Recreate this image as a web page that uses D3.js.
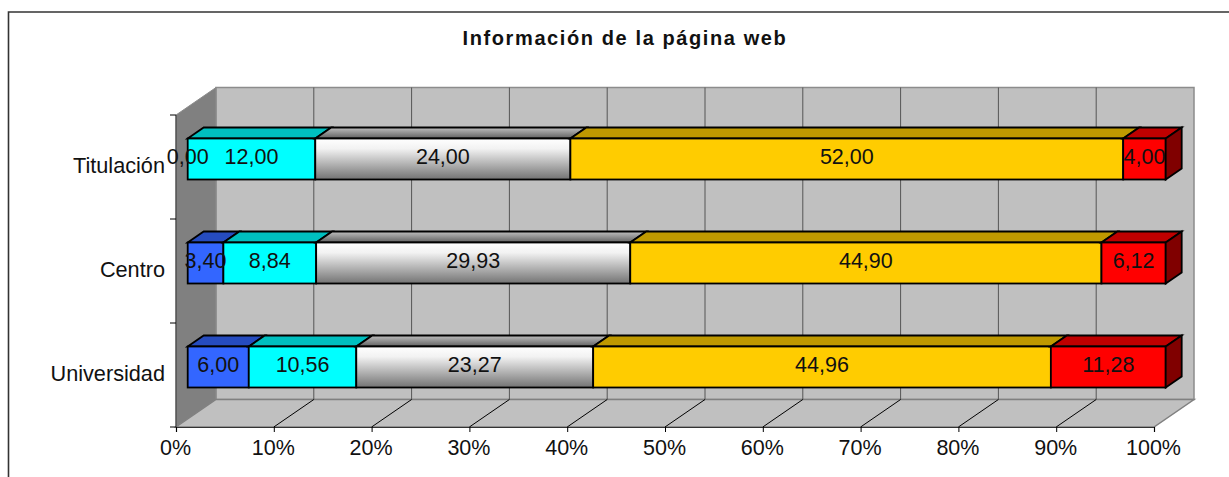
<!DOCTYPE html>
<html>
<head>
<meta charset="utf-8">
<script src="https://cdn.jsdelivr.net/npm/d3@7"></script>
<style>
  html, body { margin: 0; padding: 0; background: #fff; }
  svg { display: block; }
  text { font-family: "Liberation Sans", Arial, sans-serif; fill: #111; }
</style>
</head>
<body>
<div id="chart"></div>
<script>
const categories = ['Universidad', 'Centro', 'Titulación'];
const seriesNames = ['azul', 'cian', 'gris', 'amarillo', 'rojo'];
const azul = [6.00, 3.40, 0.00];
const cian = [10.56, 8.84, 12.00];
const gris = [23.27, 29.93, 24.00];
const amarillo = [44.96, 44.90, 52.00];
const rojo = [11.28, 6.12, 4.00];
const tickLabels = [0, 10, 20, 30, 40, 50, 60, 70, 80, 90, 100];

const width = 1229, height = 477;
const svg = d3.select('#chart').append('svg').attr('width', width).attr('height', height);

const frontColors = ['#3366ff', '#00ffff', 'url(#grisFront)', '#ffcc00', '#ff0000'];
const topColors = ['#264cbf', '#00bfbf', 'url(#grisTop)', '#bf9900', '#bf0000'];
const sideColors = ['#1a3380', '#008080', '#666666', '#806600', '#800000'];

const defs = svg.append('defs');
const grad = (id, stops) => {
    const g = defs.append('linearGradient').attr('id', id).attr('x1', 0).attr('y1', 0).attr('x2', 0).attr('y2', 1);
    stops.forEach(s => g.append('stop').attr('offset', s[0]).attr('stop-color', s[1]));
};
grad('grisFront', [[0, '#ffffff'], [0.25, '#f2f2f2'], [1, '#737373']]);
grad('grisTop', [[0, '#c0c0c0'], [1, '#606060']]);

// front plane of the 3D box
const x = d3.scaleLinear().domain([0, 100]).range([176, 1154]);
const y = d3.scaleBand().domain(categories.slice().reverse()).range([115, 427]);
const depthX = 40, depthY = -27.5;
const barDx = 11.7, barDy = -8, barDepthX = 16, barDepthY = -11;
const barHeight = 41;

// chart border: the right side is cut off in the reference
svg.append('path').attr('d', 'M8.5,477V12H1229').attr('fill', 'none').attr('stroke', '#333').attr('stroke-width', 1.6);

svg.append('text').attr('x', 625).attr('y', 45).attr('text-anchor', 'middle')
    .style('font-size', '20px').style('font-weight', 'bold').style('letter-spacing', '1.6px')
    .text('Información de la página web');

const x0 = x(0), x1 = x(100), yT = y.range()[0], yB = y.range()[1];

// walls
const poly = pts => pts.map(p => p.join(',')).join(' ');
svg.append('polygon').attr('points', poly([[x0 + depthX, yT + depthY], [x1 + depthX, yT + depthY], [x1 + depthX, yB + depthY], [x0 + depthX, yB + depthY]]))
    .attr('fill', '#c0c0c0').attr('stroke', '#8c8c8c').attr('stroke-width', 1.5);
svg.append('polygon').attr('points', poly([[x0, yT], [x0 + depthX, yT + depthY], [x0 + depthX, yB + depthY], [x0, yB]]))
    .attr('fill', '#808080').attr('stroke', '#8c8c8c');
svg.append('polygon').attr('points', poly([[x0, yB], [x0 + depthX, yB + depthY], [x1 + depthX, yB + depthY], [x1, yB]]))
    .attr('fill', '#c0c0c0').attr('stroke', '#808080').attr('stroke-width', 1.5);

// gridlines
tickLabels.slice(1, -1).forEach(t => {
    svg.append('line').attr('x1', x(t) + depthX).attr('x2', x(t) + depthX).attr('y1', yT + depthY).attr('y2', yB + depthY)
        .attr('stroke', '#555').attr('stroke-width', 1);
    svg.append('line').attr('x1', x(t)).attr('x2', x(t) + depthX).attr('y1', yB).attr('y2', yB + depthY)
        .attr('stroke', '#000').attr('stroke-width', 1);
});

// axes
const xAxis = d3.axisBottom(x).tickValues(tickLabels).tickFormat(d => d + '%').tickSize(5).tickPadding(8);
const gx = svg.append('g').attr('transform', `translate(0,${yB})`).call(xAxis);
gx.selectAll('text').style('font-size', '21.5px').attr('font-family', null).attr('dx', -1);
gx.selectAll('line').attr('stroke', '#000');
gx.select('.domain').attr('stroke', '#333').attr('stroke-width', 1.2);

svg.append('line').attr('x1', x0).attr('x2', x0).attr('y1', yT).attr('y2', yB).attr('stroke', '#333');
const catTicks = d3.range(4).map(i => yT + i * y.step());
svg.selectAll('.cat-tick').data(catTicks).enter().append('line').attr('class', 'cat-tick')
    .attr('x1', x0 - 6).attr('x2', x0).attr('y1', d => d).attr('y2', d => d).attr('stroke', '#000');

svg.selectAll('.cat-label').data(categories).enter().append('text').attr('class', 'cat-label')
    .attr('x', 165).attr('y', d => y(d) + y.bandwidth() / 2 + 5.5)
    .attr('text-anchor', 'end').style('font-size', '21.7px').text(d => d);

// stacked bars, normalised to 100 %
const values = [azul, cian, gris, amarillo, rojo];
const rows = categories.map((c, i) => {
    const r = { cat: c };
    seriesNames.forEach((s, j) => { r[s] = values[j][i]; });
    return r;
});
const stacked = d3.stack().keys(seriesNames).offset(d3.stackOffsetExpand)(rows);

const labels = [];
categories.slice().reverse().forEach(cat => {
    const i = categories.indexOf(cat);
    const barY = y(cat) + y.bandwidth() / 2 - barHeight / 2 + barDy;
    const g = svg.append('g');
    stacked.forEach((layer, j) => {
        const a = x(layer[i][0] * 100) + barDx, b = x(layer[i][1] * 100) + barDx;
        if (values[j][i] > 0) {
            g.append('polygon').attr('points', poly([[a, barY], [a + barDepthX, barY + barDepthY], [b + barDepthX, barY + barDepthY], [b, barY]]))
                .attr('fill', topColors[j]).attr('stroke', '#000').attr('stroke-width', 1.8);
            g.append('rect').attr('x', a).attr('y', barY).attr('width', b - a).attr('height', barHeight)
                .attr('fill', frontColors[j]).attr('stroke', '#000').attr('stroke-width', 1.8);
        }
        labels.push({ x: (a + b) / 2, y: barY + barHeight / 2 + 0.5, text: d3.format('.2f')(values[j][i]).replace('.', ',') });
    });
    // end cap of the last segment
    const end = x(100) + barDx;
    g.append('polygon').attr('points', poly([[end, barY], [end + barDepthX, barY + barDepthY], [end + barDepthX, barY + barDepthY + barHeight], [end, barY + barHeight]]))
        .attr('fill', sideColors[4]).attr('stroke', '#000').attr('stroke-width', 1.8);
});

svg.selectAll('.value').data(labels).enter().append('text').attr('class', 'value')
    .attr('x', d => d.x).attr('y', d => d.y + 4.5).attr('text-anchor', 'middle')
    .style('font-size', '21.5px').text(d => d.text);
</script>
</body>
</html>
